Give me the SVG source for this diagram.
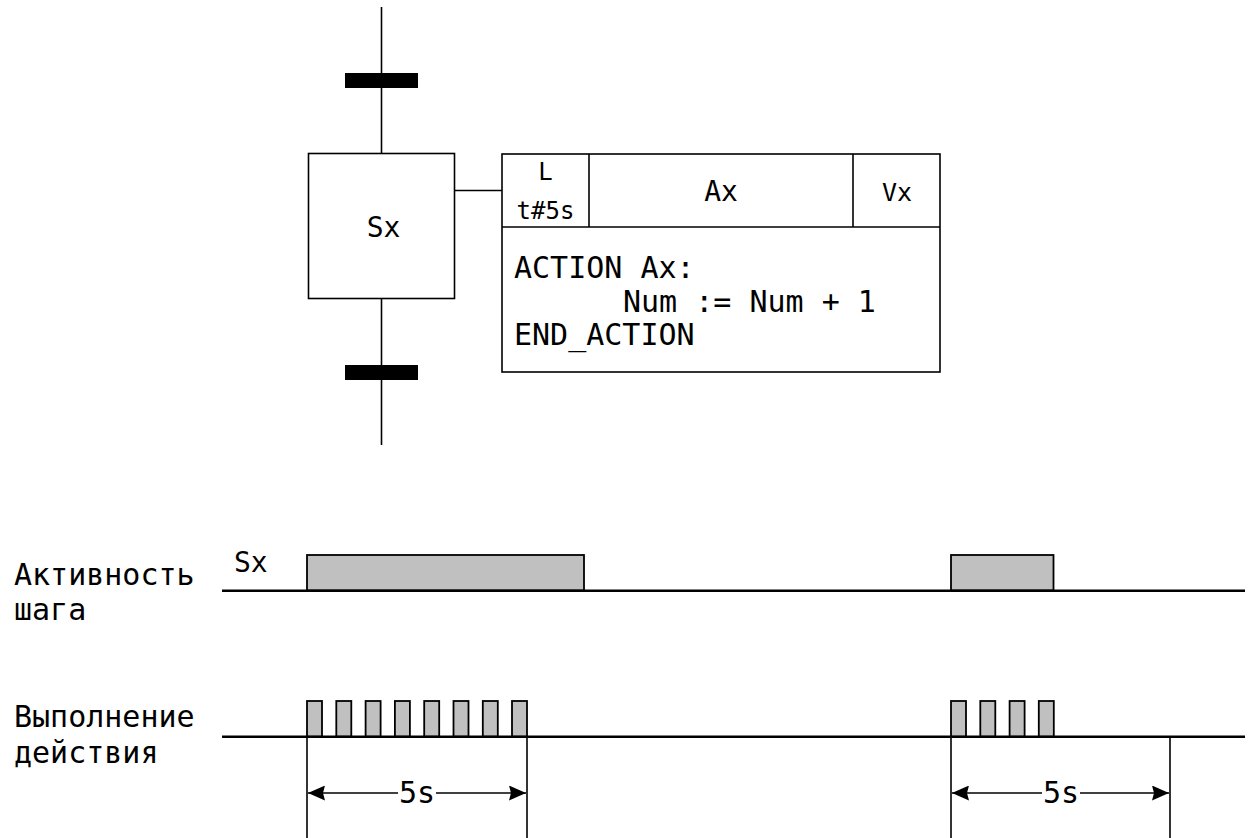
<svg xmlns="http://www.w3.org/2000/svg" width="1253" height="838" viewBox="0 0 1253 838">
<defs>
<style>
.t{font-family:"DejaVu Sans Mono","Liberation Mono",monospace;fill:#000}
.ln{stroke:#000;stroke-width:1.6;fill:none}
.tl{stroke:#000;stroke-width:2.5;fill:none}
.box{fill:#fff;stroke:#000;stroke-width:1.6}
.bar{fill:#000}
.p{fill:#c0c0c0;stroke:#000;stroke-width:1.8}
</style>
<marker id="ah" viewBox="0 0 17 15" refX="17" refY="7.5" markerWidth="17" markerHeight="15" markerUnits="userSpaceOnUse" orient="auto-start-reverse">
<path d="M0,0 L17,7.5 L0,15 L2,7.5 Z" fill="#000"/>
</marker>
</defs>
<rect width="1253" height="838" fill="#fff"/>
<g id="connectors">
<line class="ln" x1="381.5" y1="7" x2="381.5" y2="153"/>
<line class="ln" x1="381.5" y1="299" x2="381.5" y2="445"/>
<line class="ln" x1="455" y1="190.5" x2="502" y2="190.5"/>
</g>
<g id="transition-top"><rect class="bar" x="345" y="73" width="73" height="15"/></g>
<g id="transition-bottom"><rect class="bar" x="345" y="365" width="73" height="15"/></g>
<g id="step-Sx">
<rect class="box" x="308.5" y="153.5" width="146" height="145"/>
<text class="t" x="383.5" y="237" font-size="28" text-anchor="middle">Sx</text>
</g>
<g id="action-Ax">
<rect class="box" x="502" y="154" width="438" height="218"/>
<line class="ln" x1="502" y1="227" x2="940" y2="227"/>
<line class="ln" x1="589" y1="154" x2="589" y2="227"/>
<line class="ln" x1="853" y1="154" x2="853" y2="227"/>
<text class="t" x="545.5" y="180" font-size="24" text-anchor="middle">L</text>
<text class="t" x="545.5" y="219" font-size="24" text-anchor="middle">t#5s</text>
<text class="t" x="721" y="201" font-size="28" text-anchor="middle">Ax</text>
<text class="t" x="897" y="201" font-size="25" text-anchor="middle">Vx</text>
<text class="t" x="514" y="278" font-size="30">ACTION Ax:</text>
<text class="t" x="623" y="312" font-size="30">Num := Num + 1</text>
<text class="t" x="514" y="345" font-size="30">END_ACTION</text>
</g>
<g id="timing-step">
<text class="t" x="14" y="585" font-size="30">Активность</text>
<text class="t" x="14" y="620" font-size="30">шага</text>
<text class="t" x="234" y="572" font-size="28">Sx</text>
<rect class="p" x="307" y="555" width="277" height="35.5"/>
<rect class="p" x="951" y="555" width="102.5" height="35.5"/>
<line class="tl" x1="222" y1="590.7" x2="1245" y2="590.7"/>
</g>
<g id="timing-action">
<text class="t" x="14" y="727" font-size="30">Выполнение</text>
<text class="t" x="14" y="763" font-size="30">действия</text>
<rect class="p" x="307" y="701" width="15" height="35.7"/>
<rect class="p" x="336.3" y="701" width="15" height="35.7"/>
<rect class="p" x="365.6" y="701" width="15" height="35.7"/>
<rect class="p" x="394.9" y="701" width="15" height="35.7"/>
<rect class="p" x="424.2" y="701" width="15" height="35.7"/>
<rect class="p" x="453.5" y="701" width="15" height="35.7"/>
<rect class="p" x="482.8" y="701" width="15" height="35.7"/>
<rect class="p" x="512" y="701" width="15" height="35.7"/>
<rect class="p" x="951" y="701" width="15" height="35.7"/>
<rect class="p" x="980.3" y="701" width="15" height="35.7"/>
<rect class="p" x="1009.6" y="701" width="15" height="35.7"/>
<rect class="p" x="1038.8" y="701" width="15" height="35.7"/>
<line class="tl" x1="222" y1="736.7" x2="1245" y2="736.7"/>
</g>
<g id="dimension-1">
<line class="ln" x1="307" y1="736.7" x2="307" y2="838"/>
<line class="ln" x1="527" y1="736.7" x2="527" y2="838"/>
<line class="ln" x1="398" y1="793" x2="308" y2="793" marker-end="url(#ah)"/>
<line class="ln" x1="436" y1="793" x2="526" y2="793" marker-end="url(#ah)"/>
<text class="t" x="417" y="803" font-size="30" text-anchor="middle">5s</text>
</g>
<g id="dimension-2">
<line class="ln" x1="1042" y1="793" x2="952" y2="793" marker-end="url(#ah)"/>
<line class="ln" x1="951" y1="736.7" x2="951" y2="838"/>
<line class="ln" x1="1170" y1="736.7" x2="1170" y2="838"/>
<line class="ln" x1="1080" y1="793" x2="1169" y2="793" marker-end="url(#ah)"/>
<text class="t" x="1061" y="803" font-size="30" text-anchor="middle">5s</text>
</g>
</svg>
